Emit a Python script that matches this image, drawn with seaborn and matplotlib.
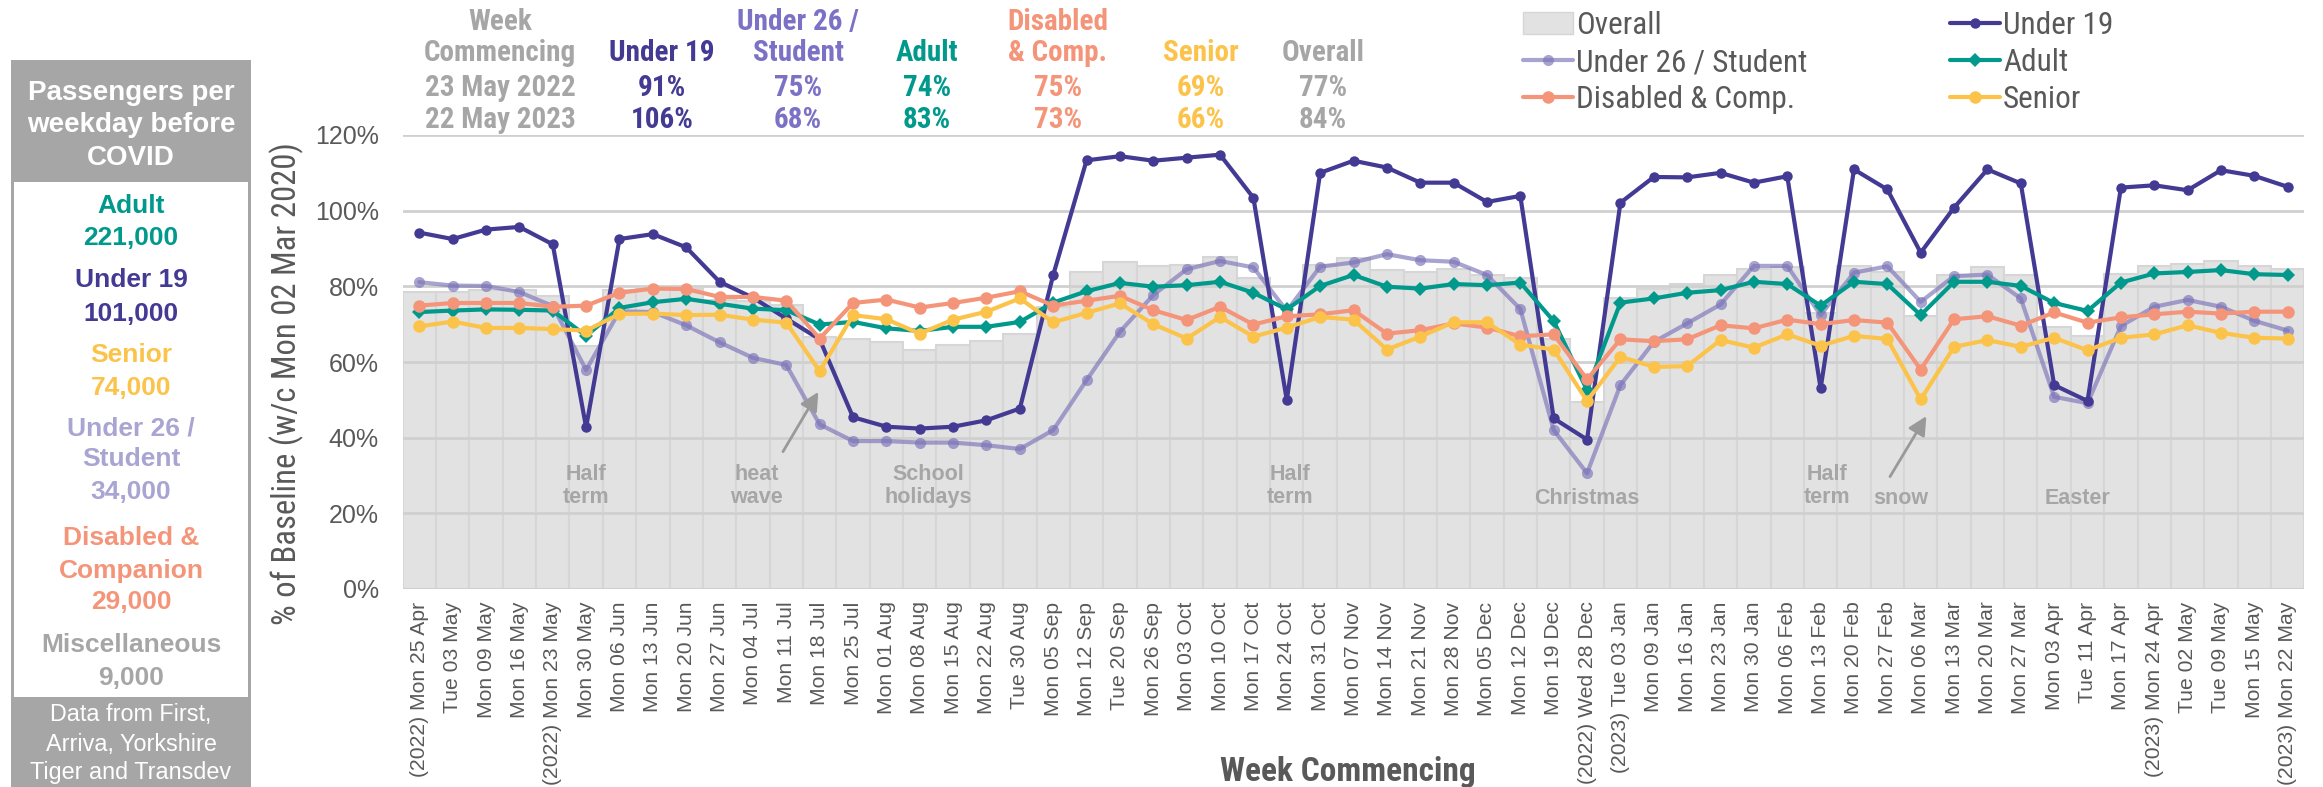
import numpy as np
import matplotlib
matplotlib.use('Agg')
import matplotlib.pyplot as plt
from matplotlib import font_manager as fm
from matplotlib.lines import Line2D
from matplotlib.patches import Patch, Rectangle
import seaborn as sns

weeks = ['(2022) Mon 25 Apr', 'Tue 03 May', 'Mon 09 May', 'Mon 16 May', '(2022) Mon 23 May',
         'Mon 30 May', 'Mon 06 Jun', 'Mon 13 Jun', 'Mon 20 Jun', 'Mon 27 Jun', 'Mon 04 Jul',
         'Mon 11 Jul', 'Mon 18 Jul', 'Mon 25 Jul', 'Mon 01 Aug', 'Mon 08 Aug', 'Mon 15 Aug',
         'Mon 22 Aug', 'Tue 30 Aug', 'Mon 05 Sep', 'Mon 12 Sep', 'Tue 20 Sep', 'Mon 26 Sep',
         'Mon 03 Oct', 'Mon 10 Oct', 'Mon 17 Oct', 'Mon 24 Oct', 'Mon 31 Oct', 'Mon 07 Nov',
         'Mon 14 Nov', 'Mon 21 Nov', 'Mon 28 Nov', 'Mon 05 Dec', 'Mon 12 Dec', 'Mon 19 Dec',
         '(2022) Wed 28 Dec', '(2023) Tue 03 Jan', 'Mon 09 Jan', 'Mon 16 Jan', 'Mon 23 Jan',
         'Mon 30 Jan', 'Mon 06 Feb', 'Mon 13 Feb', 'Mon 20 Feb', 'Mon 27 Feb', 'Mon 06 Mar',
         'Mon 13 Mar', 'Mon 20 Mar', 'Mon 27 Mar', 'Mon 03 Apr', 'Tue 11 Apr', 'Mon 17 Apr',
         '(2023) Mon 24 Apr', 'Tue 02 May', 'Tue 09 May', 'Mon 15 May', '(2023) Mon 22 May']

overall = [78.6, 78.6, 79.0, 79.0, 77.4, 64.3, 79.0, 79.4, 79.4, 76.3, 76.0,
           75.0, 66.5, 66.0, 65.2, 63.3, 64.6, 65.5, 67.5, 74.6, 83.8, 86.4, 85.3, 85.6, 87.8, 82.3,
           72.0, 85.6, 87.6, 84.3, 83.7, 84.7, 83.1, 82.3, 66.0, 49.5, 77.0, 79.4, 80.6, 83.1, 84.5, 85.2,
           73.0, 85.4, 83.8, 72.2, 83.0, 85.2, 83.1, 69.3, 66.8, 83.2, 85.3, 86.0, 86.6, 85.3, 84.5]
under19 = [94.2, 92.5, 95.0, 95.7, 91.1, 42.7, 92.5, 93.8, 90.3, 81.2, 77.0,
           71.5, 66.0, 45.4, 42.9, 42.4, 42.9, 44.6, 47.7, 83.0, 113.3, 114.4, 113.2, 114.0, 114.8, 103.4,
           49.9, 110.0, 113.2, 111.4, 107.4, 107.4, 102.3, 103.9, 45.1, 39.5, 102.1, 108.9, 108.8, 110.0, 107.4, 109.1,
           53.0, 110.9, 105.6, 88.9, 100.8, 110.9, 107.2, 53.9, 49.7, 106.1, 106.7, 105.4, 110.7, 109.2, 106.3]
under26 = [81.1, 80.2, 80.1, 78.5, 74.8, 57.9, 73.4, 73.2, 69.7, 65.2, 61.1,
           59.2, 43.5, 39.1, 39.1, 38.7, 38.7, 38.0, 37.0, 42.0, 55.2, 68.0, 77.7, 84.5, 86.7, 85.0,
           73.5, 85.2, 86.3, 88.5, 86.9, 86.5, 83.0, 74.0, 42.0, 30.6, 53.9, 65.3, 70.2, 75.2, 85.4, 85.4,
           72.4, 83.6, 85.3, 75.9, 82.7, 83.1, 76.8, 50.8, 49.1, 69.5, 74.6, 76.4, 74.6, 70.9, 68.3]
adult = [73.2, 73.6, 73.9, 73.8, 73.6, 66.9, 74.3, 75.8, 76.7, 75.4, 74.1,
         73.7, 69.9, 70.6, 68.9, 68.2, 69.3, 69.3, 70.6, 75.7, 78.7, 80.9, 79.9, 80.3, 81.2, 78.3,
         73.9, 80.1, 83.0, 79.9, 79.4, 80.6, 80.3, 81.0, 70.8, 52.6, 75.7, 76.8, 78.3, 79.0, 81.2, 80.6,
         74.9, 81.2, 80.6, 72.4, 81.2, 81.2, 80.1, 75.6, 73.5, 81.0, 83.4, 83.8, 84.3, 83.2, 83.0]
disabled = [74.9, 75.6, 75.6, 75.6, 74.6, 74.9, 78.3, 79.4, 79.3, 77.2, 77.2,
            76.2, 66.2, 75.6, 76.5, 74.4, 75.6, 77.0, 78.7, 74.9, 76.2, 77.5, 73.7, 71.1, 74.6, 69.9,
            72.1, 72.6, 73.7, 67.5, 68.4, 70.2, 69.1, 66.8, 67.3, 55.4, 66.0, 65.5, 66.0, 69.7, 68.9, 71.2,
            70.0, 71.1, 70.4, 58.0, 71.3, 72.1, 69.6, 73.1, 70.4, 71.8, 72.6, 73.3, 72.8, 73.3, 73.3]
senior = [69.4, 70.7, 69.0, 69.0, 68.7, 68.3, 72.7, 72.8, 72.4, 72.5, 71.2,
          70.4, 57.6, 72.4, 71.3, 67.5, 71.2, 73.3, 76.8, 70.5, 73.0, 75.5, 70.0, 66.2, 71.9, 66.7,
          69.1, 71.9, 71.2, 63.3, 66.7, 70.5, 70.5, 64.6, 63.3, 49.7, 61.4, 58.7, 58.9, 65.8, 63.8, 67.3,
          64.3, 66.9, 66.1, 50.1, 64.0, 65.8, 64.0, 66.4, 63.1, 66.4, 67.3, 69.7, 67.7, 66.4, 66.2]

# header table: group name lines, 23 May 2022, 22 May 2023
summary_groups = [['Under 19'], ['Under 26 /', 'Student'], ['Adult'], ['Disabled', '& Comp.'],
                  ['Senior'], ['Overall']]
summary_2022 = ['91%', '75%', '74%', '75%', '69%', '77%']
summary_2023 = ['106%', '68%', '83%', '73%', '66%', '84%']

# left panel: passengers per weekday before COVID
panel_names = [['Adult'], ['Under 19'], ['Senior'], ['Under 26 /', 'Student'],
               ['Disabled &', 'Companion'], ['Miscellaneous']]
panel_counts = ['221,000', '101,000', '74,000', '34,000', '29,000', '9,000']

# events marked on the chart
events = ['Half\nterm', 'heat\nwave', 'School\nholidays', 'Half\nterm', 'Christmas',
          'Half\nterm', 'snow', 'Easter']
event_pos = [5, 10.1, 15.25, 26.1, 35, 42.2, 44.4, 49.7]

C_U19 = '#433a93'
C_U26 = '#7a73b7'
C_ADULT = '#00998c'
C_DIS = '#f4957a'
C_SEN = '#fcc34a'
GREY = '#a6a6a6'
DARK = '#595959'

W, H = 2323, 787


def fx(px):
    return px / W


def fy(py):
    return 1 - py / H


def pick_font(cands):
    for name, scale in cands:
        try:
            fm.findfont(fm.FontProperties(family=name), fallback_to_default=False)
            return name, scale
        except ValueError:
            pass
    return 'DejaVu Sans', 0.75


sns.set_style('white')
plt.rcParams['font.family'] = ['Liberation Sans', 'DejaVu Sans']
NARROW, NS = pick_font([('Liberation Sans Narrow', 1.1), ('Roboto Condensed', 1.0),
                        ('Barlow Semi Condensed', 1.0), ('Asap Condensed', 1.0),
                        ('Liberation Sans', 0.85)])

fig = plt.figure(figsize=(W / 100, H / 100), dpi=100)
ax = fig.add_axes([fx(402.6), fy(589), fx(2304.4) - fx(402.6), fy(135) - fy(589)])

x = np.arange(len(weeks))
sns.barplot(x=x, y=overall, ax=ax, color='#e2e2e2', edgecolor='#d6d6d6', linewidth=1.5,
            width=1.0, saturation=1)

series = [
    (under26, C_U26, 'o', 8, 0.65, 4),
    (under19, C_U19, 'o', 7.5, 1.0, 5),
    (adult, C_ADULT, 'D', 7.5, 1.0, 6),
    (disabled, C_DIS, 'o', 9, 1.0, 7),
    (senior, C_SEN, 'o', 9, 1.0, 8),
]
for vals, col, mk, ms, alpha, z in series:
    sns.lineplot(x=x, y=vals, ax=ax, color=col, marker=mk, markersize=ms, linewidth=3,
                 markeredgewidth=0, alpha=alpha, zorder=z, legend=False)

ax.set_xlim(-0.5, len(weeks) - 0.5)
ax.set_ylim(0, 120)
ax.set_yticks(range(0, 121, 20))
ax.set_yticklabels([f'{v}%' for v in range(0, 121, 20)])
ax.set_xticks(x)
ax.set_xticklabels(weeks, rotation=90)
ax.tick_params(axis='x', length=0, pad=9, labelsize=15.2, labelcolor=DARK)
ax.tick_params(axis='y', length=0, pad=17, labelsize=18, labelcolor=DARK)
ax.set_xlabel('')
ax.set_ylabel('')
ax.yaxis.grid(True, color='#d0d0d0', linewidth=2)
ax.set_axisbelow(False)
for s in ax.spines.values():
    s.set_visible(False)

# event labels + arrows
for label, pos in zip(events, event_pos):
    yv = 27.3 if '\n' in label else 24.0
    ax.text(pos, yv, label, ha='center', va='center', fontsize=15.5, fontweight='bold',
            color=GREY, linespacing=1.1, zorder=3)
arrow = dict(arrowstyle='-|>', color='#999999', lw=2, mutation_scale=28, shrinkA=0, shrinkB=0)
ax.annotate('', xy=(11.96, 52.1), xytext=(10.9, 36.3), arrowprops=arrow, zorder=9)
ax.annotate('', xy=(45.17, 45.7), xytext=(44.08, 29.7), arrowprops=arrow, zorder=9)

# axis titles
fig.text(fx(287), fy(384), '% of Baseline (w/c Mon 02 Mar 2020)', rotation=90, ha='center',
         va='center', fontsize=23.5 * NS, color=DARK, family=NARROW)
fig.text(fx(1348), fy(772), 'Week Commencing', ha='center', va='center', fontsize=24 * NS,
         fontweight='bold', color=DARK, family=NARROW)

# header table
hdr = dict(ha='center', va='center', fontsize=21 * NS, fontweight='bold', family=NARROW)
rows_y = [22, 53, 88, 120]
fig.text(fx(500), fy(rows_y[0]), 'Week', color=GREY, **hdr)
fig.text(fx(500), fy(rows_y[1]), 'Commencing', color=GREY, **hdr)
fig.text(fx(500), fy(rows_y[2]), '23 May 2022', color=GREY, **hdr)
fig.text(fx(500), fy(rows_y[3]), '22 May 2023', color=GREY, **hdr)
hdr_cols = [C_U19, '#7b72c6', C_ADULT, C_DIS, C_SEN, GREY]
hdr_x = [662, 798, 927, 1058, 1201, 1323]
for lines, a, b, col, px in zip(summary_groups, summary_2022, summary_2023, hdr_cols, hdr_x):
    for k, ln in enumerate(lines):
        fig.text(fx(px), fy(rows_y[2 - len(lines) + k]), ln, color=col, **hdr)
    fig.text(fx(px), fy(rows_y[2]), a, color=col, **hdr)
    fig.text(fx(px), fy(rows_y[3]), b, color=col, **hdr)

# legend, two columns placed separately
leg_kw = dict(frameon=False, handlelength=1.6, handletextpad=0.1, labelspacing=0.26,
              borderaxespad=0, borderpad=0, prop={'family': NARROW, 'size': 22.5 * NS},
              labelcolor=DARK)
h1 = [Patch(facecolor='#e2e2e2', edgecolor='#d6d6d6'),
      Line2D([], [], color=C_U26, alpha=0.65, lw=3, marker='o', ms=8, mew=0),
      Line2D([], [], color=C_DIS, lw=3, marker='o', ms=9, mew=0)]
h2 = [Line2D([], [], color=C_U19, lw=3, marker='o', ms=7.5, mew=0),
      Line2D([], [], color=C_ADULT, lw=3, marker='D', ms=7.5, mew=0),
      Line2D([], [], color=C_SEN, lw=3, marker='o', ms=9, mew=0)]
fig.legend(h1, ['Overall', 'Under 26 / Student', 'Disabled & Comp.'], loc='upper left',
           bbox_to_anchor=(fx(1523), fy(11)), **leg_kw)
fig.legend(h2, ['Under 19', 'Adult', 'Senior'], loc='upper left',
           bbox_to_anchor=(fx(1950), fy(11)), **leg_kw)

# left panel
fig.patches.append(Rectangle((fx(11), 0), fx(251) - fx(11), fy(60), transform=fig.transFigure,
                             facecolor=GREY, edgecolor='none', zorder=0))
fig.patches.append(Rectangle((fx(14), fy(697)), fx(248) - fx(14), fy(182) - fy(697),
                             transform=fig.transFigure, facecolor='white', edgecolor='none', zorder=0))
for ln, py in zip(['Passengers per', 'weekday before', 'COVID'], [93, 125.5, 158]):
    fig.text(fx(131), fy(py), ln, ha='center', va='center', color='white', fontsize=20,
             fontweight='bold')
panel_cols = [C_ADULT, C_U19, C_SEN, '#a9a4d2', C_DIS, GREY]
panel_y = [[206, 238], [280, 314], [355, 388], [428, 459, 492], [538, 571, 602], [645, 678]]
for lines, cnt, col, ys in zip(panel_names, panel_counts, panel_cols, panel_y):
    for ln, py in zip(lines + [cnt], ys):
        fig.text(fx(131), fy(py), ln, ha='center', va='center', color=col, fontsize=19,
                 fontweight='bold')
for ln, py in zip(['Data from First,', 'Arriva, Yorkshire', 'Tiger and Transdev'], [715, 744, 773]):
    fig.text(fx(131), fy(py), ln, ha='center', va='center', color='white', fontsize=16.8)

fig.savefig('out.png', dpi=100)
